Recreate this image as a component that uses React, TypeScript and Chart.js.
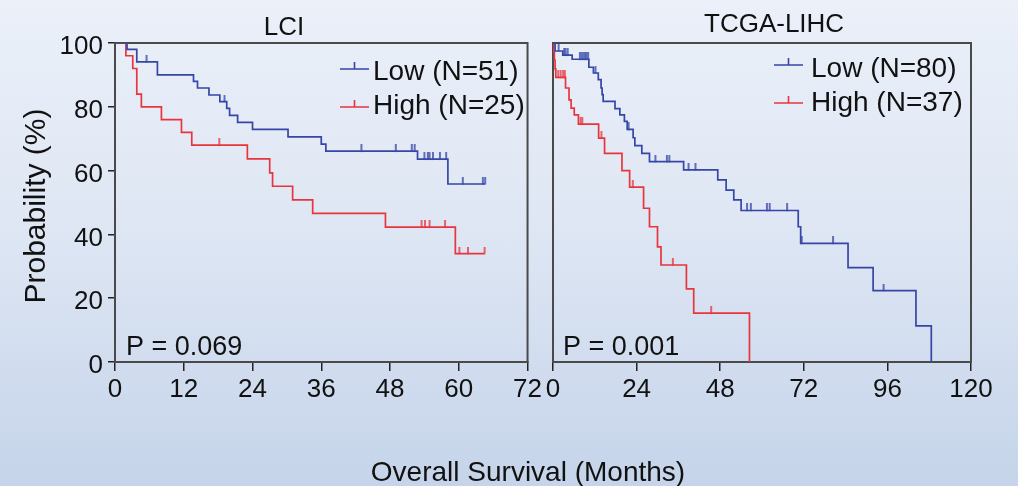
import React, { useEffect, useRef } from 'react';
import { Chart, registerables } from 'chart.js';

Chart.register(...registerables);

const FONT = '"Liberation Sans", Arial, Helvetica, sans-serif';
const BLUE = '#3646a6';
const RED = '#e8353d';

// ---------- axis ticks ----------
const yTickValues = [0, 20, 40, 60, 80, 100];
const lciXMax = 72;
const lciXStep = 12;
const tcgaXMax = 120;
const tcgaXStep = 24;

// ---------- LCI : Low (N=51) ----------
const lciLowTimes = [0, 2.1, 3.8, 7.4, 13.7, 14.4, 16.4, 18.3, 19.5, 20.0, 21.4, 24.0, 30.2, 36.0, 36.8, 52.8, 58.1];
const lciLowSurv = [100, 98.0, 94.1, 90.0, 88.0, 85.9, 83.7, 81.6, 79.5, 77.3, 75.1, 72.9, 70.6, 68.3, 66.1, 63.6, 55.8];
const lciLowEnd = 64.6;
const lciLowCensor = [5.5, 19.1, 43.0, 49.0, 51.8, 52.3, 54.0, 54.6, 54.9, 55.5, 56.7, 57.8, 60.7, 64.2, 64.6];

// ---------- LCI : High (N=25) ----------
const lciHighTimes = [0, 1.9, 3.1, 3.8, 4.6, 8.1, 11.6, 13.4, 23.1, 27.0, 27.5, 31.0, 34.5, 47.2, 59.4];
const lciHighSurv = [100, 96, 92, 84, 80, 76, 72, 68, 63.7, 59.3, 55.1, 50.8, 46.6, 42.3, 34.0];
const lciHighEnd = 64.5;
const lciHighCensor = [18.2, 53.5, 54.1, 54.9, 57.6, 60.1, 61.6, 64.5];

// ---------- TCGA-LIHC : Low (N=80) ----------
const tcgaLowTimes = [0, 0.6, 2.8, 5.5, 10.3, 11.6, 13.0, 13.8, 14.1, 14.4, 17.8, 19.2, 20.5, 21.3, 23.0, 23.5, 25.5, 27.7, 37.5, 47.3, 49.7, 51.9, 54.0, 70.4, 71.1, 84.7, 91.9, 104.2, 108.6];
const tcgaLowSurv = [100, 97.5, 96.2, 94.9, 92.4, 90.6, 88.5, 85.9, 83.8, 81.7, 79.4, 77.5, 75.4, 72.9, 70.3, 67.8, 65.4, 62.8, 60.2, 57.1, 53.9, 50.8, 47.5, 42.4, 37.2, 29.6, 22.4, 11.3, 0];
const tcgaLowEnd = 108.6;
const tcgaLowCensor = [1.6, 3.2, 3.6, 4.2, 7.7, 8.2, 8.7, 9.2, 9.6, 10.1, 12.2, 21.7, 29.4, 32.7, 33.4, 38.9, 40.9, 55.7, 56.8, 61.4, 62.2, 67.2, 71.4, 80.4, 94.9];

// ---------- TCGA-LIHC : High (N=37) ----------
const tcgaHighTimes = [0, 0.2, 0.4, 0.6, 0.8, 3.6, 4.6, 5.2, 6.1, 7.3, 13.1, 14.8, 19.8, 22.0, 26.0, 27.7, 30.0, 31.0, 38.3, 40.4, 56.4];
const tcgaHighSurv = [100, 97.3, 94.6, 91.9, 89.2, 85.9, 82.2, 79.6, 77.5, 74.6, 70.2, 65.4, 60.0, 54.8, 48.2, 42.4, 36.1, 30.4, 22.9, 15.3, 0];
const tcgaHighEnd = 56.4;
const tcgaHighCensor = [1.5, 2.2, 2.9, 3.4, 7.9, 8.4, 13.9, 22.9, 34.4, 45.4];

// ---------- helpers ----------
function survAt(times: number[], surv: number[], t: number) {
  let s = surv[0];
  for (let i = 0; i < times.length; i++) if (times[i] <= t) s = surv[i];
  return s;
}

function stepPoints(times: number[], surv: number[], end: number) {
  const pts = times.map((t, i) => ({ x: t, y: surv[i] }));
  const last = times[times.length - 1];
  if (end > last) pts.push({ x: end, y: surv[surv.length - 1] });
  return pts;
}

function censorPoints(times: number[], surv: number[], cens: number[]) {
  return cens.map((t) => ({ x: t, y: survAt(times, surv, t) }));
}

function makeTick(color: string) {
  const c = document.createElement('canvas');
  c.width = 4;
  c.height = 14;
  const g = c.getContext('2d')!;
  g.strokeStyle = color;
  g.lineWidth = 1.5;
  g.beginPath();
  g.moveTo(2, 0);
  g.lineTo(2, 7.5);
  g.stroke();
  return c;
}

type Curve = { times: number[]; surv: number[]; end: number; censor: number[]; color: string; label: string };

type PanelCfg = {
  left: number;
  width: number;
  yWidth: number;
  padRight: number;
  xMax: number;
  xStep: number;
  showY: boolean;
  curves: Curve[];
  title: string;
  titleX: number;
  titleAlign: CanvasTextAlign;
  titleY: number;
  pText: string;
  pX: number;
  legendLineX: number;
  legendTextX: number;
  legendLineY: number[];
  legendBaseY: number[];
};

const TOTAL_H = 486;
const AREA_TOP = 43;
const AREA_BOTTOM = 362;

function Panel({ cfg }: { cfg: PanelCfg }) {
  const ref = useRef<HTMLCanvasElement>(null);
  useEffect(() => {
    const off = cfg.left;
    const datasets: any[] = [];
    cfg.curves.forEach((c) => {
      datasets.push({
        data: stepPoints(c.times, c.surv, c.end),
        borderColor: c.color,
        borderWidth: 1.7,
        stepped: 'before',
        pointRadius: 0,
        fill: false,
        tension: 0,
      });
      datasets.push({
        data: censorPoints(c.times, c.surv, c.censor),
        showLine: false,
        pointStyle: makeTick(c.color),
        pointRadius: 4,
        borderColor: c.color,
        backgroundColor: c.color,
      });
    });

    const overlay = {
      id: 'overlay',
      beforeDatasetsDraw(chart: any) {
        const { ctx, chartArea: a } = chart;
        ctx.save();
        ctx.strokeStyle = '#4a4a4a';
        ctx.lineWidth = 2;
        ctx.strokeRect(a.left, a.top, a.right - a.left, a.bottom - a.top);
        ctx.restore();
      },
      afterDraw(chart: any) {
        const { ctx } = chart;
        ctx.save();
        ctx.fillStyle = '#111';
        // title
        ctx.font = `26px ${FONT}`;
        ctx.textAlign = cfg.titleAlign;
        ctx.textBaseline = 'alphabetic';
        ctx.fillText(cfg.title, cfg.titleX - off, cfg.titleY);
        // p value
        ctx.font = `27px ${FONT}`;
        ctx.textAlign = 'left';
        ctx.fillText(cfg.pText, cfg.pX - off, 355);
        // legend
        cfg.curves.forEach((c, i) => {
          const ly = cfg.legendLineY[i];
          const lx = cfg.legendLineX - off;
          ctx.strokeStyle = c.color;
          ctx.lineWidth = 1.6;
          ctx.beginPath();
          ctx.moveTo(lx, ly);
          ctx.lineTo(lx + 29, ly);
          ctx.moveTo(lx + 14.5, ly);
          ctx.lineTo(lx + 14.5, ly - 7);
          ctx.stroke();
          ctx.fillStyle = '#111';
          ctx.font = `28px ${FONT}`;
          ctx.fillText(c.label, cfg.legendTextX - off, cfg.legendBaseY[i]);
        });
        // y title
        if (cfg.showY) {
          ctx.save();
          ctx.translate(37, 206);
          ctx.rotate(-Math.PI / 2);
          ctx.textAlign = 'center';
          ctx.textBaseline = 'middle';
          ctx.font = `30px ${FONT}`;
          ctx.fillText('Probability (%)', 0, 0);
          ctx.restore();
        }
        ctx.restore();
      },
    };

    const chart = new Chart(ref.current!, {
      type: 'line',
      data: { datasets },
      options: {
        responsive: false,
        animation: false,
        events: [],
        layout: { padding: { top: AREA_TOP, right: cfg.padRight, left: 0, bottom: 0 } },
        plugins: { legend: { display: false }, title: { display: false }, tooltip: { enabled: false } },
        scales: {
          x: {
            type: 'linear',
            min: 0,
            max: cfg.xMax,
            afterFit: (s: any) => {
              s.height = TOTAL_H - AREA_BOTTOM;
            },
            ticks: {
              stepSize: cfg.xStep,
              autoSkip: false,
              maxRotation: 0,
              padding: 3,
              color: '#111',
              font: { family: FONT, size: 26 },
            },
            grid: { drawOnChartArea: false, tickLength: 9, color: '#222', lineWidth: 1.5 },
            border: { display: true, color: '#333', width: 2 },
          },
          y: {
            type: 'linear',
            min: 0,
            max: 100,
            afterFit: (s: any) => {
              s.width = cfg.yWidth;
            },
            ticks: {
              display: cfg.showY,
              stepSize: 20,
              padding: 5,
              labelOffset: 4,
              color: '#111',
              font: { family: FONT, size: 26 },
              callback: (v: any) => (yTickValues.includes(Number(v)) ? String(v) : ''),
            },
            grid: { display: cfg.showY, drawOnChartArea: false, tickLength: 7, color: '#222', lineWidth: 1.5 },
            border: { display: true, color: '#222', width: 2 },
          },
        },
      },
      plugins: [overlay],
    } as any);
    return () => chart.destroy();
  }, []);
  return (
    <canvas
      ref={ref}
      width={cfg.width}
      height={TOTAL_H}
      style={{ position: 'absolute', left: cfg.left, top: 0, width: cfg.width, height: TOTAL_H }}
    />
  );
}

const lciCfg: PanelCfg = {
  left: 0,
  width: 545,
  yWidth: 115,
  padRight: 16,
  xMax: lciXMax,
  xStep: lciXStep,
  showY: true,
  curves: [
    { times: lciLowTimes, surv: lciLowSurv, end: lciLowEnd, censor: lciLowCensor, color: BLUE, label: 'Low (N=51)' },
    { times: lciHighTimes, surv: lciHighSurv, end: lciHighEnd, censor: lciHighCensor, color: RED, label: 'High (N=25)' },
  ],
  title: 'LCI',
  titleX: 284,
  titleAlign: 'center',
  titleY: 35,
  pText: 'P = 0.069',
  pX: 126,
  legendLineX: 340,
  legendTextX: 373,
  legendLineY: [69, 107],
  legendBaseY: [80, 114],
};

const tcgaCfg: PanelCfg = {
  left: 540,
  width: 478,
  yWidth: 13,
  padRight: 47,
  xMax: tcgaXMax,
  xStep: tcgaXStep,
  showY: false,
  curves: [
    { times: tcgaLowTimes, surv: tcgaLowSurv, end: tcgaLowEnd, censor: tcgaLowCensor, color: BLUE, label: 'Low (N=80)' },
    { times: tcgaHighTimes, surv: tcgaHighSurv, end: tcgaHighEnd, censor: tcgaHighCensor, color: RED, label: 'High (N=37)' },
  ],
  title: 'TCGA-LIHC',
  titleX: 704,
  titleAlign: 'left',
  titleY: 32,
  pText: 'P = 0.001',
  pX: 563,
  legendLineX: 774,
  legendTextX: 811,
  legendLineY: [65, 103],
  legendBaseY: [77, 111],
};

export default function App() {
  return (
    <div
      style={{
        position: 'absolute',
        left: 0,
        top: 0,
        width: 1018,
        height: 486,
        overflow: 'hidden',
        background: 'linear-gradient(180deg, #ebf0f9 0%, #dfe7f4 45%, #c5d4ea 100%)',
      }}
    >
      <Panel cfg={lciCfg} />
      <Panel cfg={tcgaCfg} />
      <div
        style={{
          position: 'absolute',
          left: 0,
          top: 458,
          width: 1056,
          textAlign: 'center',
          fontFamily: FONT,
          fontSize: 28,
          lineHeight: '28px',
          color: '#111',
          whiteSpace: 'nowrap',
        }}
      >
        Overall Survival (Months)
      </div>
    </div>
  );
}
